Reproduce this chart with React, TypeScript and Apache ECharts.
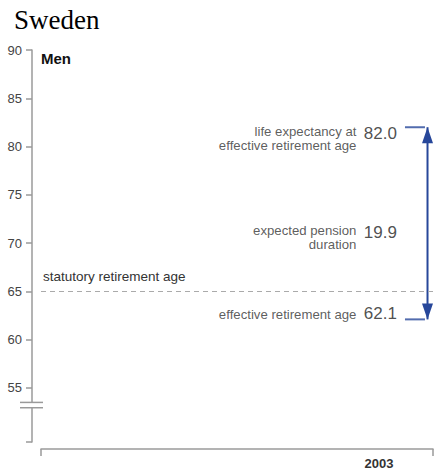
import React, { useEffect, useRef } from "react";
import * as echarts from "echarts";

// ---- data ----
const titleText = "Sweden";
const panelLabel = "Men";
const yTickValues = [55, 60, 65, 70, 75, 80, 85, 90];
const yMin = 49.4;
const yMax = 90;
const breakValues = [53.5, 52.95];
const statutoryAge = 65;
const statutoryLabel = "statutory retirement age";
const effectiveAge = 62.1;
const lifeExpectancy = 82.0;
const pensionDuration = 19.9;
const descLifeExp = ["life expectancy at", "effective retirement age"];
const descDuration = ["expected pension", "duration"];
const descEffective = ["effective retirement age"];
const yearLabels = ["2003"];
const yearPositions = [86.2];
const xMin = 0;
const xMax = 100;
const arrowAt = 98.6;
const markerAt = 95.4;
const descAt = 80.6;

const BLUE = "#27479a";
const AXIS = "#9a9a9a";
const FONT = "'Liberation Sans', Arial, sans-serif";
const LINE_H = 14;

export default function App() {
  const ref = useRef<HTMLDivElement>(null);
  useEffect(() => {
    if (!ref.current) return;
    const chart = echarts.init(ref.current, null, { renderer: "svg" });
    const gridLeft = 41;
    const yOffset = 9;
    const midAge = (effectiveAge + lifeExpectancy) / 2;

    const descEntries: { y: number; lines: string[]; va: string; off: number }[] = [
      { y: lifeExpectancy, lines: descLifeExp, va: "top", off: -2 },
      { y: midAge, lines: descDuration, va: "top", off: 1 },
      { y: effectiveAge, lines: descEffective, va: "bottom", off: 2 },
    ];
    const descData: any[] = [];
    descEntries.forEach((e) => {
      e.lines.forEach((line, i) => {
        descData.push({
          value: [descAt, e.y],
          label: { formatter: line, verticalAlign: e.va, offset: [0, e.off + i * LINE_H] },
        });
      });
    });

    const option: any = {
      animation: false,
      title: {
        text: titleText,
        left: 14,
        top: 6,
        padding: 0,
        textStyle: {
          fontFamily: "'Liberation Serif', 'Times New Roman', serif",
          fontSize: 27,
          fontWeight: "normal",
          color: "#000",
        },
      },
      grid: { left: gridLeft, right: 1, top: 50, bottom: 30 },
      xAxis: {
        type: "value",
        min: xMin,
        max: xMax,
        offset: 7,
        splitLine: { show: false },
        axisLine: { onZero: false, lineStyle: { color: AXIS, width: 1.5 } },
        axisTick: {
          show: true,
          customValues: [xMin, xMax],
          length: 7,
          lineStyle: { color: AXIS, width: 1.5 },
        },
        axisLabel: {
          customValues: yearPositions,
          formatter: (v: number) => yearLabels[yearPositions.indexOf(v)] ?? "",
          margin: 8,
          color: "#333",
          fontWeight: "bold",
          fontSize: 13,
          fontFamily: FONT,
        },
      },
      yAxis: {
        type: "value",
        min: yMin,
        max: yMax,
        offset: yOffset,
        splitLine: { show: false },
        axisLine: { show: true, onZero: false, lineStyle: { color: AXIS, width: 1.5 } },
        axisTick: {
          show: true,
          customValues: [yMin, ...yTickValues],
          length: 6,
          lineStyle: { color: AXIS, width: 1.5 },
        },
        axisLabel: {
          customValues: yTickValues,
          margin: 10,
          color: "#444",
          fontSize: 13,
          fontFamily: FONT,
        },
      },
      series: [
        {
          type: "line",
          name: "arrow",
          data: [
            { value: [arrowAt, effectiveAge], symbolRotate: 180, symbolOffset: [0, -8] },
            { value: [arrowAt, lifeExpectancy], symbolRotate: 0, symbolOffset: [0, 8] },
          ],
          symbol: "triangle",
          symbolSize: [11, 16],
          showSymbol: true,
          lineStyle: { color: BLUE, width: 2 },
          itemStyle: { color: BLUE },
          z: 3,
          markLine: {
            silent: true,
            symbol: ["none", "none"],
            data: [{ yAxis: statutoryAge }],
            lineStyle: { color: "#aaa", type: [5, 4], width: 1.2 },
            label: {
              show: true,
              position: "insideStartTop",
              formatter: statutoryLabel,
              color: "#333",
              fontSize: 13.5,
              fontFamily: FONT,
              distance: [2, 8],
            },
          },
        },
        {
          type: "scatter",
          name: "markers",
          data: [
            { value: [markerAt, lifeExpectancy], label: { verticalAlign: "top", offset: [0, -2] } },
            { value: [markerAt, effectiveAge], label: { verticalAlign: "bottom", offset: [0, 3] } },
          ],
          symbol: "rect",
          symbolSize: [20, 2],
          itemStyle: { color: BLUE },
          label: {
            show: true,
            position: "left",
            distance: 8,
            formatter: (p: any) => p.value[1].toFixed(1),
            fontSize: 17,
            color: "#222",
            fontFamily: FONT,
          },
        },
        {
          type: "scatter",
          name: "duration",
          data: [{ value: [markerAt, midAge], label: { verticalAlign: "top", offset: [0, 1] } }],
          symbol: "rect",
          symbolSize: [20, 2],
          itemStyle: { color: "rgba(0,0,0,0)" },
          label: {
            show: true,
            position: "left",
            distance: 8,
            formatter: () => pensionDuration.toFixed(1),
            fontSize: 17,
            color: "#222",
            fontFamily: FONT,
          },
        },
        {
          type: "scatter",
          name: "desc",
          data: descData,
          symbol: "circle",
          symbolSize: 1,
          itemStyle: { color: "rgba(0,0,0,0)" },
          label: {
            show: true,
            position: "left",
            distance: 0,
            align: "right",
            fontSize: 13.2,
            lineHeight: 13,
            color: "#333",
            fontFamily: FONT,
          },
        },
      ],
    };
    chart.setOption(option);

    const axisX = gridLeft - yOffset;
    const yb1 = chart.convertToPixel({ yAxisIndex: 0 }, breakValues[0]) as number;
    const yb2 = chart.convertToPixel({ yAxisIndex: 0 }, breakValues[1]) as number;
    const gridTop = chart.convertToPixel({ yAxisIndex: 0 }, yMax) as number;
    chart.setOption({
      graphic: [
        {
          type: "rect",
          shape: { x: axisX - 3, y: yb1, width: 6, height: yb2 - yb1 },
          style: { fill: "#fff" },
          z: 100,
        },
        {
          type: "line",
          shape: { x1: axisX - 12, y1: yb1, x2: axisX + 11, y2: yb1 },
          style: { stroke: AXIS, lineWidth: 1.5 },
          z: 101,
        },
        {
          type: "line",
          shape: { x1: axisX - 12, y1: yb2, x2: axisX + 11, y2: yb2 },
          style: { stroke: AXIS, lineWidth: 1.5 },
          z: 101,
        },
        {
          type: "text",
          x: gridLeft,
          y: gridTop + 1,
          style: {
            text: panelLabel,
            fontFamily: FONT,
            fontSize: 15,
            fontWeight: "bold",
            fill: "#111",
            textVerticalAlign: "top",
          },
          z: 100,
        },
      ],
    });
    return () => chart.dispose();
  }, []);
  return (
    <div
      ref={ref}
      style={{ position: "fixed", left: 0, top: 0, width: 434, height: 472, background: "#fff" }}
    />
  );
}
